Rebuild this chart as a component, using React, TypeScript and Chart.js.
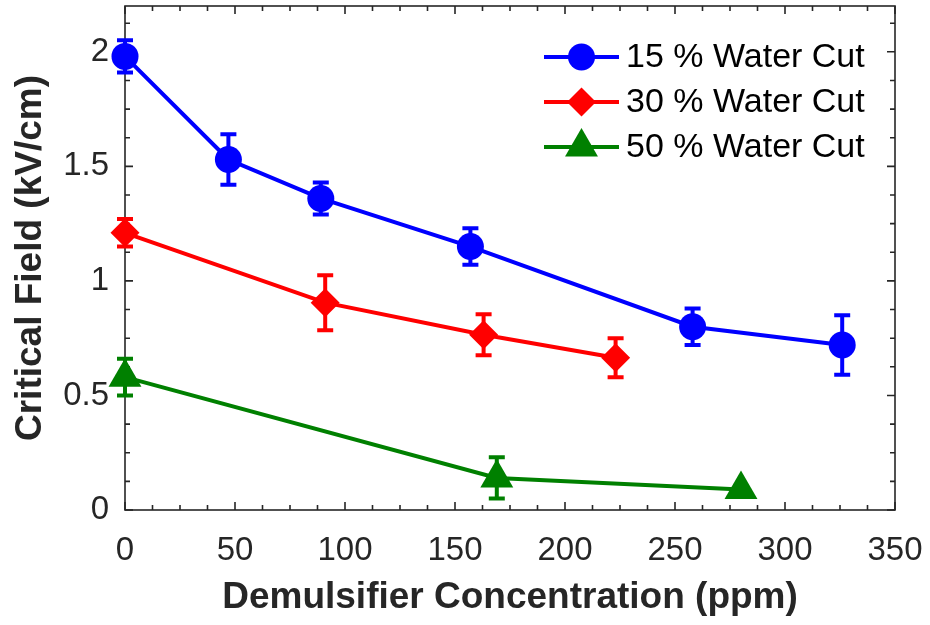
import React, { useEffect, useRef } from "react";
import { Chart, registerables } from "chart.js";

Chart.register(...registerables);

// ---- data ----
const seriesLabels = ["15 % Water Cut", "30 % Water Cut", "50 % Water Cut"];

const conc15 = [0, 47, 89, 157, 258, 326];
const field15 = [1.98, 1.53, 1.36, 1.15, 0.8, 0.72];
const err15 = [0.07, 0.11, 0.07, 0.08, 0.08, 0.13];

const conc30 = [0, 91, 163, 223];
const field30 = [1.21, 0.905, 0.765, 0.665];
const err30 = [0.06, 0.12, 0.09, 0.085];

const conc50 = [0, 169, 280];
const field50 = [0.58, 0.14, 0.09];
const err50 = [0.08, 0.09, 0];

const xTicks = [0, 50, 100, 150, 200, 250, 300, 350];
const yTicks = [0, 0.5, 1, 1.5, 2];

const xTitle = "Demulsifier Concentration (ppm)";
const yTitle = "Critical Field (kV/cm)";

// ---- styling ----
const FONT = '"Liberation Sans", Arial, Helvetica, sans-serif';
const AXIS_COLOR = "#262626";
const X_MIN = 0;
const X_MAX = 350;
const X_MINOR = 12.5;
const Y_MIN = 0;
const Y_MAX = 2.2;
const Y_MINOR = 0.125;

type Marker = "circle" | "rectRot" | "triangle";

const series = [
  { label: seriesLabels[0], x: conc15, y: field15, err: err15, color: "#0000ff", marker: "circle" as Marker, radius: 13.5 },
  { label: seriesLabels[1], x: conc30, y: field30, err: err30, color: "#ff0000", marker: "rectRot" as Marker, radius: 14.5 },
  { label: seriesLabels[2], x: conc50, y: field50, err: err50, color: "#008000", marker: "triangle" as Marker, radius: 19 },
];

function drawMarker(ctx: CanvasRenderingContext2D, kind: Marker, x: number, y: number, r: number) {
  ctx.beginPath();
  if (kind === "circle") {
    ctx.arc(x, y, r, 0, Math.PI * 2);
  } else if (kind === "rectRot") {
    ctx.moveTo(x - r, y);
    ctx.lineTo(x, y - r);
    ctx.lineTo(x + r, y);
    ctx.lineTo(x, y + r);
  } else {
    ctx.moveTo(x, y - r);
    ctx.lineTo(x + r * Math.sin((2 * Math.PI) / 3), y + r * 0.5);
    ctx.lineTo(x - r * Math.sin((2 * Math.PI) / 3), y + r * 0.5);
  }
  ctx.closePath();
  ctx.fill();
}

// Box around the plot with inward major/minor ticks on all four sides
const framePlugin = {
  id: "frame",
  beforeDatasetsDraw(chart: any) {
    const { ctx, chartArea: a, scales } = chart;
    const xs = scales.x;
    const ys = scales.y;
    ctx.save();
    ctx.strokeStyle = AXIS_COLOR;
    ctx.lineWidth = 1.6;
    ctx.strokeRect(a.left, a.top, a.right - a.left, a.bottom - a.top);
    ctx.beginPath();
    for (let v = X_MIN; v <= X_MAX + 1e-9; v += X_MINOR) {
      const major = xTicks.some((t) => Math.abs(t - v) < 1e-6);
      const len = major ? 8 : 5;
      const px = xs.getPixelForValue(v);
      ctx.moveTo(px, a.bottom);
      ctx.lineTo(px, a.bottom - len);
      ctx.moveTo(px, a.top);
      ctx.lineTo(px, a.top + len);
    }
    for (let v = Y_MIN; v <= Y_MAX + 1e-9; v += Y_MINOR) {
      const major = yTicks.some((t) => Math.abs(t - v) < 1e-6);
      const len = major ? 8 : 5;
      const py = ys.getPixelForValue(v);
      ctx.moveTo(a.left, py);
      ctx.lineTo(a.left + len, py);
      ctx.moveTo(a.right, py);
      ctx.lineTo(a.right - len, py);
    }
    ctx.stroke();
    ctx.restore();
  },
};

// Vertical error bars with caps
const errorBarPlugin = {
  id: "errorBars",
  beforeDatasetsDraw(chart: any) {
    const { ctx, scales } = chart;
    const xs = scales.x;
    const ys = scales.y;
    ctx.save();
    ctx.lineWidth = 4;
    ctx.lineCap = "butt";
    series.forEach((s) => {
      ctx.strokeStyle = s.color;
      ctx.beginPath();
      s.x.forEach((xv, i) => {
        const e = s.err[i];
        if (!e) return;
        const px = xs.getPixelForValue(xv);
        const top = ys.getPixelForValue(s.y[i] + e);
        const bot = ys.getPixelForValue(s.y[i] - e);
        ctx.moveTo(px, top);
        ctx.lineTo(px, bot);
        ctx.moveTo(px - 8, top);
        ctx.lineTo(px + 8, top);
        ctx.moveTo(px - 8, bot);
        ctx.lineTo(px + 8, bot);
      });
      ctx.stroke();
    });
    ctx.restore();
  },
};

// Legend in the upper right of the plot area
const legendPlugin = {
  id: "insideLegend",
  afterDraw(chart: any) {
    const { ctx } = chart;
    const lineX0 = 544;
    const lineX1 = 619;
    const textX = 626;
    const rows = [57, 102, 147];
    ctx.save();
    series.forEach((s, i) => {
      const y = rows[i];
      ctx.strokeStyle = s.color;
      ctx.fillStyle = s.color;
      ctx.lineWidth = 4;
      ctx.beginPath();
      ctx.moveTo(lineX0, y);
      ctx.lineTo(lineX1, y);
      ctx.stroke();
      drawMarker(ctx, s.marker, (lineX0 + lineX1) / 2, y, s.radius);
      ctx.fillStyle = "#000000";
      ctx.font = `34px ${FONT}`;
      ctx.textAlign = "left";
      ctx.textBaseline = "middle";
      ctx.fillText(s.label, textX, y + 1);
    });
    ctx.restore();
  },
};

export default function App() {
  const canvasRef = useRef<HTMLCanvasElement | null>(null);

  useEffect(() => {
    const canvas = canvasRef.current;
    if (!canvas) return;
    const chart = new Chart(canvas, {
      type: "scatter",
      data: {
        datasets: series.map((s) => ({
          label: s.label,
          data: s.x.map((xv, i) => ({ x: xv, y: s.y[i] })),
          showLine: true,
          borderColor: s.color,
          backgroundColor: s.color,
          borderWidth: 4,
          pointStyle: s.marker,
          pointRadius: s.radius,
          pointBorderWidth: 0,
          pointBackgroundColor: s.color,
          pointBorderColor: s.color,
          tension: 0,
          clip: false as any,
        })),
      },
      options: {
        responsive: false,
        animation: false,
        events: [],
        layout: { autoPadding: false, padding: { top: 6, right: 35, left: 0, bottom: 0 } },
        plugins: {
          legend: { display: false },
          tooltip: { enabled: false },
        },
        scales: {
          x: {
            type: "linear",
            min: X_MIN,
            max: X_MAX,
            afterBuildTicks: (scale: any) => {
              scale.ticks = xTicks.map((v) => ({ value: v }));
            },
            afterFit: (scale: any) => {
              scale.height = 115;
              scale.paddingLeft = 0;
              scale.paddingRight = 0;
            },
            grid: { display: false, drawTicks: false },
            border: { display: false },
            ticks: {
              autoSkip: false,
              maxRotation: 0,
              padding: 21,
              color: AXIS_COLOR,
              font: { family: FONT, size: 33 },
              callback: (v: any) => String(v),
            },
            title: {
              display: true,
              text: xTitle,
              color: AXIS_COLOR,
              font: { family: FONT, size: 37, weight: "bold" },
              padding: { top: 0, bottom: 5 },
            },
          },
          y: {
            type: "linear",
            min: Y_MIN,
            max: Y_MAX,
            afterBuildTicks: (scale: any) => {
              scale.ticks = yTicks.map((v) => ({ value: v }));
            },
            afterFit: (scale: any) => {
              scale.width = 125;
              scale.paddingTop = 0;
              scale.paddingBottom = 0;
            },
            grid: { display: false, drawTicks: false },
            border: { display: false },
            ticks: {
              autoSkip: false,
              padding: 16,
              color: AXIS_COLOR,
              font: { family: FONT, size: 33, lineHeight: 0.3 },
              callback: (v: any) => String(v),
            },
            title: {
              display: true,
              text: yTitle,
              color: AXIS_COLOR,
              font: { family: FONT, size: 37, weight: "bold" },
              padding: { top: 9, bottom: 0 },
            },
          },
        },
      },
      plugins: [framePlugin, errorBarPlugin, legendPlugin],
    } as any);
    return () => chart.destroy();
  }, []);

  return (
    <div style={{ position: "fixed", left: 0, top: 0, width: 930, height: 625, background: "#ffffff" }}>
      <canvas ref={canvasRef} width={930} height={625} style={{ width: 930, height: 625, display: "block" }} />
    </div>
  );
}
